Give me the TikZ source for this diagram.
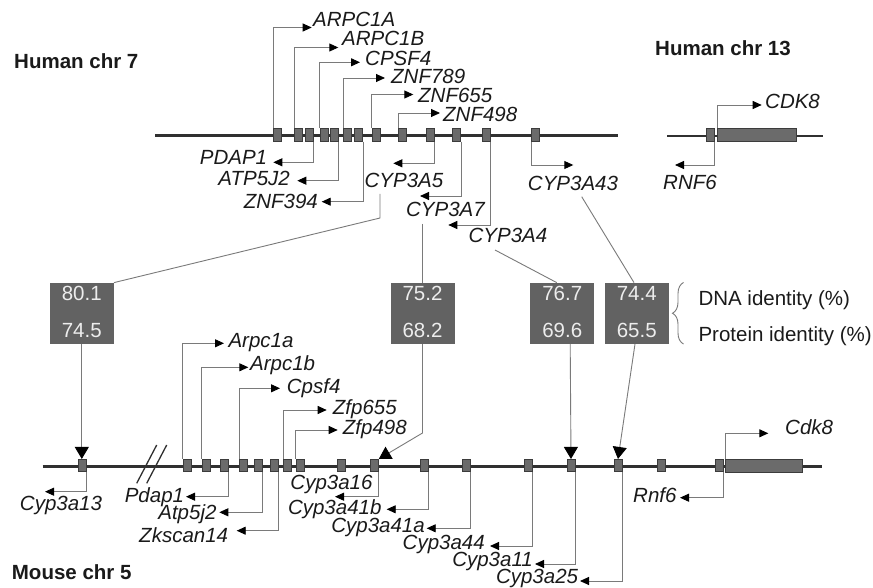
\documentclass[tikz,border=0pt]{standalone}
\usepackage{fontspec}
\setmainfont{Liberation Sans}
\usetikzlibrary{arrows.meta,decorations.pathreplacing}
\definecolor{exonfill}{HTML}{6B6B6B}
\definecolor{exonline}{HTML}{3C3C3C}
\definecolor{chromc}{HTML}{303030}
\definecolor{linec}{HTML}{7A7A7A}
\definecolor{boxc}{HTML}{626262}
\definecolor{txtc}{HTML}{1A1A1A}
\definecolor{boxtxt}{HTML}{EDEDED}
\tikzset{
  chrom/.style={draw=chromc,line width=2.2pt},
  exon/.style={draw=exonline,fill=exonfill,line width=0.6pt,minimum width=8pt,minimum height=12.5pt,inner sep=0pt},
  garr/.style={draw=linec,line width=0.9pt,-{Triangle[length=9pt,width=8pt,color=black]}},
  conn/.style={draw=linec,line width=0.9pt},
  bigarr/.style={draw=linec,line width=0.9pt,-{Triangle[length=12pt,width=14pt,color=black]}},
  ibox/.style={fill=boxc,minimum width=64pt,minimum height=61pt,inner sep=0pt},
  itext/.style={text=boxtxt,inner sep=0pt,font=\fontsize{20.5}{24}\selectfont},
  lab/.style={text=txtc,inner sep=0pt,font=\fontsize{20.5}{24}\selectfont\itshape},
  plain/.style={text=txtc,inner sep=0pt,font=\fontsize{20.5}{24}\selectfont},
  ttl/.style={text=txtc,inner sep=0pt,anchor=west,font=\fontsize{20.5}{24}\selectfont\bfseries},
}
\begin{document}
\begin{tikzpicture}[x=1pt,y=-1pt]
\useasboundingbox (0,0) rectangle (873,588);
\fill[white] (0,0) rectangle (873,588);

% ---------- titles ----------
\node[ttl] (t7) at (14,61) {Human chr 7};
\node[ttl] (t13) at (655,48) {Human chr 13};
\node[ttl] (t5) at (11.7,572.5) {Mouse chr 5};

% ---------- human chr 7 ----------
\coordinate (hL) at (155,135.5);
\coordinate (hR) at (618,135.5);
\draw[chrom] (hL) -- (hR);
\foreach \n/\x in {1/277.3,2/298.3,3/309.3,4/323.8,5/334,6/347.3,7/358.7,8/375.8,9/402.7,10/430,11/456.7,12/485.8,13/535.3}
  \node[exon] (h\n) at (\x,135) {};

% up-right genes
\coordinate (tA) at (311.7,27.5);   \draw[garr] (h1.north west) |- (tA);
\node[lab,anchor=west] (ARPC1A) at (313,19.5) {ARPC1A};
\coordinate (tB) at (338.3,47.5);   \draw[garr] (h2.north west) |- (tB);
\node[lab,anchor=west] (ARPC1B) at (342,38.5) {ARPC1B};
\coordinate (tC) at (360,62.3);     \draw[garr] (h4.north west) |- (tC);
\node[lab,anchor=west] (CPSF4) at (365,58) {CPSF4};
\coordinate (tD) at (385,78);       \draw[garr] (h6.north west) |- (tD);
\node[lab,anchor=west] (ZNF789) at (391,76.5) {ZNF789};
\coordinate (tE) at (413.3,94.5);   \draw[garr] (h8.north west) |- (tE);
\node[lab,anchor=west] (ZNF655) at (418,95) {ZNF655};
\coordinate (tF) at (440,113);      \draw[garr] (h9.north west) |- (tF);
\node[lab,anchor=west] (ZNF498) at (443,114) {ZNF498};

% down-left genes
\coordinate (tG) at (273.3,162.3);  \draw[garr] (h3.south east) |- (tG);
\node[lab,anchor=east] (PDAP1) at (267.3,157) {PDAP1};
\coordinate (tH) at (297.3,180.7);  \draw[garr] (h5.south east) |- (tH);
\node[lab,anchor=east] (ATP5J2) at (290,178) {ATP5J2};
\coordinate (tI) at (321.7,201.7);  \draw[garr] (h7.south east) |- (tI);
\node[lab,anchor=east] (ZNF394) at (318,201) {ZNF394};
\coordinate (tJ) at (393.3,163.3);  \draw[garr] (h10.south east) |- (tJ);
\node[lab] (CYP3A5) at (404,180) {CYP3A5};
\coordinate (tK) at (420,196);      \draw[garr] (h11.south east) |- (tK);
\node[lab] (CYP3A7) at (445.5,209) {CYP3A7};
\coordinate (tL) at (448.3,225);    \draw[garr] (h12.south east) |- (tL);
\node[lab] (CYP3A4) at (508,235.5) {CYP3A4};
\coordinate (tM) at (573.3,165);    \draw[garr] (h13.south west) |- (tM);
\node[lab] (CYP3A43) at (573,183) {CYP3A43};

% ---------- human chr 13 ----------
\coordinate (cL) at (667.3,136);
\coordinate (cR) at (822.7,136);
\draw[chrom] (cL) -- (cR);
\node[exon] (c1) at (710.3,135) {};
\node[exon,minimum width=78.3pt,minimum height=13pt] (c2) at (756.8,135) {};
\coordinate (tN) at (761.7,105);  \draw[garr] (c2.north west) |- (tN);
\node[lab,anchor=west] (CDK8) at (765,101) {CDK8};
\coordinate (tO) at (675,165);    \draw[garr] (c1.south east) |- (tO);
\node[lab] (RNF6) at (690,182) {RNF6};

% ---------- identity boxes ----------
\node[ibox] (B1) at (81.8,313.3) {};
\node[ibox] (B2) at (422.5,313.3) {};
\node[ibox] (B3) at (562.2,313.3) {};
\node[ibox] (B4) at (636.7,313.3) {};
\foreach \b/\u/\l in {B1/80.1/74.5,B2/75.2/68.2,B3/76.7/69.6,B4/74.4/65.5}{
  \node[itext] at ([yshift=19.8pt]\b.center) {\u};
  \node[itext] at ([yshift=-17pt]\b.center) {\l};
}
\draw[decorate,decoration={brace,amplitude=11pt},draw=linec,line width=0.9pt] (683.5,344) -- (683.5,282.5);
\node[plain,anchor=west] (dna) at (698.3,300) {DNA identity (\%)};
\node[plain,anchor=west] (prot) at (698.3,336) {Protein identity (\%)};

% ---------- mouse chr 5 ----------
\coordinate (mL) at (42.7,466.5);
\coordinate (mR) at (821.7,466.5);
\draw[chrom] (mL) -- (mR);
\coordinate (s1a) at (136.7,483.3); \coordinate (s1b) at (156.7,445);
\coordinate (s2a) at (146.7,483.3); \coordinate (s2b) at (166.7,445);
\draw[chromc,line width=1.3pt] (s1a) -- (s1b) (s2a) -- (s2b);
\foreach \n/\x in {1/82.5,2/187,3/206,4/224.5,5/243.5,6/258,7/274,8/287.5,9/300,10/341.5,11/374.5,12/424,13/466,14/528,15/571,16/618,17/661.7,18/719}
  \node[exon] (m\n) at (\x,465.5) {};
\node[exon,minimum width=77pt,minimum height=13pt] (m19) at (764.2,465.5) {};

% up-right
\coordinate (ua) at (224,343.3);  \draw[garr] (m2.north west) |- (ua);
\node[lab,anchor=west] (Arpc1a) at (228.3,343) {Arpc1a};
\coordinate (ub) at (248.3,367.3); \draw[garr] (m3.north west) |- (ub);
\node[lab,anchor=west] (Arpc1b) at (250,365) {Arpc1b};
\coordinate (uc) at (280,388.3);  \draw[garr] (m5.north west) |- (uc);
\node[lab,anchor=west] (Cpsf4) at (286.7,388) {Cpsf4};
\coordinate (ud) at (326.7,410);  \draw[garr] (m8.north west) |- (ud);
\node[lab,anchor=west] (Zfp655) at (332.7,409.5) {Zfp655};
\coordinate (ue) at (337.7,430);  \draw[garr] (m9.north west) |- (ue);
\node[lab,anchor=west] (Zfp498) at (342.7,429) {Zfp498};
\coordinate (uf) at (768.3,433.3); \draw[garr] (m19.north west) |- (uf);
\node[lab,anchor=west] (Cdk8) at (785,427.5) {Cdk8};

% down-left
\coordinate (da) at (45,491.7);   \draw[garr] (m1.south east) |- (da);
\node[lab] (Cyp3a13) at (61,505.5) {Cyp3a13};
\coordinate (db) at (186,496.7);  \draw[garr] (m4.south east) |- (db);
\node[lab,anchor=east] (Pdap1) at (184.3,497.5) {Pdap1};
\coordinate (dc) at (219.3,512.3); \draw[garr] (m6.south east) |- (dc);
\node[lab,anchor=east] (Atp5j2) at (216.7,514) {Atp5j2};
\coordinate (dd) at (236.7,530.7); \draw[garr] (m7.south east) |- (dd);
\node[lab,anchor=east] (Zkscan14) at (228.3,535) {Zkscan14};
\coordinate (de) at (335,496.7);  \draw[garr] (m11.south east) |- (de);
\node[lab] (Cyp3a16) at (331.5,484) {Cyp3a16};
\coordinate (df) at (386.7,509.3); \draw[garr] (m12.south east) |- (df);
\node[lab,anchor=east] (Cyp3a41b) at (381.7,509) {Cyp3a41b};
\coordinate (dg) at (426.7,528.3); \draw[garr] (m13.south east) |- (dg);
\node[lab,anchor=east] (Cyp3a41a) at (425,527) {Cyp3a41a};
\coordinate (dh) at (490,546);    \draw[garr] (m14.south east) |- (dh);
\node[lab,anchor=east] (Cyp3a44) at (485,544) {Cyp3a44};
\coordinate (di) at (535,564);    \draw[garr] (m15.south east) |- (di);
\node[lab,anchor=east] (Cyp3a11) at (533,561.7) {Cyp3a11};
\coordinate (dj) at (580,581);    \draw[garr] (m16.south east) |- (dj);
\node[lab,anchor=east] (Cyp3a25) at (578.3,578) {Cyp3a25};
\coordinate (dk) at (680,497.7);  \draw[garr] (m18.south east) |- (dk);
\node[lab,anchor=east] (Rnf6) at (676.7,495) {Rnf6};

% ---------- orthology connectors ----------
\coordinate (k1a) at (380,194);
\coordinate (k1b) at (380,218);
\draw[conn] (k1a) -- (k1b) -- (B1.north east);
\draw[bigarr] (B1.south) -- (B1.south |- m1.north);

\coordinate (k2) at (422.5,224);
\draw[conn] (k2) -- (B2.north);
\coordinate (k2b) at (422.5,433);
\draw[bigarr] (B2.south) -- (k2b) -- (m11.north east);

\coordinate (k3) at (495,250);
\draw[conn] (k3) -- ([xshift=-5.5pt]B3.north);
\draw[bigarr] ([xshift=8pt]B3.south) -- (m15.north);

\coordinate (k4) at (581.7,196.7);
\draw[conn] (k4) -- ([xshift=-2.7pt]B4.north);
\draw[bigarr] ([xshift=-1.7pt]B4.south) -- (m16.north);
\end{tikzpicture}
\end{document}
